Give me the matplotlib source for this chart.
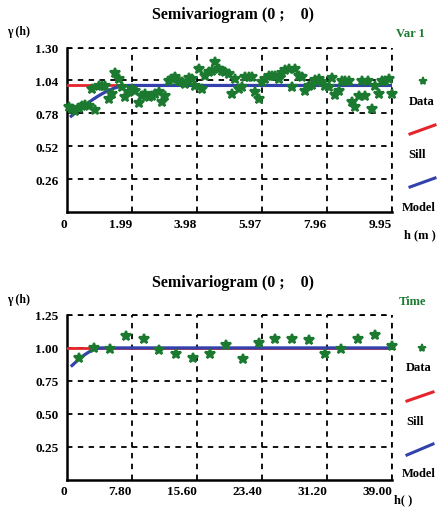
import numpy as np
import matplotlib
matplotlib.use("Agg")
import matplotlib.pyplot as plt
from matplotlib.lines import Line2D

# ---- Var 1 experimental semivariogram ----
var1_lag = [0.05, 0.15, 0.26, 0.36, 0.46, 0.56, 0.66, 0.77, 0.87, 0.97,
            1.07, 1.17, 1.28, 1.38, 1.48, 1.58, 1.68, 1.79, 1.89, 1.99,
            2.09, 2.19, 2.30, 2.40, 2.50, 2.60, 2.70, 2.81, 2.91, 3.01,
            3.11, 3.21, 3.32, 3.42, 3.52, 3.62, 3.72, 3.83, 3.93, 4.03,
            4.13, 4.23, 4.34, 4.44, 4.54, 4.64, 4.74, 4.85, 4.95, 5.05,
            5.15, 5.26, 5.36, 5.46, 5.56, 5.66, 5.77, 5.87, 5.97, 6.07,
            6.17, 6.28, 6.38, 6.48, 6.58, 6.68, 6.79, 6.89, 6.99, 7.09,
            7.19, 7.30, 7.40, 7.50, 7.60, 7.70, 7.81, 7.91, 8.01, 8.11,
            8.21, 8.32, 8.42, 8.52, 8.62, 8.72, 8.83, 8.93, 9.03, 9.13,
            9.23, 9.34, 9.44, 9.54, 9.64, 9.74, 9.85, 9.95]
var1_gamma = [0.827, 0.814, 0.801, 0.819, 0.840, 0.846, 0.840, 0.972, 0.806, 0.993,
              0.998, 0.993, 0.893, 0.932, 1.098, 1.051, 0.985, 0.906, 0.945, 0.972,
              0.959, 0.861, 0.919, 0.932, 0.906, 0.919, 0.932, 0.945, 0.867, 0.919,
              1.037, 1.051, 1.064, 1.037, 1.024, 1.011, 1.056, 1.051, 0.993, 1.129,
              0.972, 1.077, 1.103, 1.116, 1.182, 1.129, 1.116, 1.103, 1.090, 0.932,
              1.051, 0.972, 0.985, 1.064, 1.064, 1.064, 0.945, 0.893, 1.024, 1.051,
              1.077, 1.077, 1.071, 1.051, 1.098, 1.124, 1.129, 0.985, 1.129, 1.071,
              1.064, 0.959, 0.993, 1.003, 1.045, 1.051, 1.029, 0.998, 0.985, 1.056,
              0.924, 0.959, 1.037, 1.037, 1.037, 0.867, 0.827, 0.919, 1.037, 0.919,
              1.037, 0.814, 0.998, 0.932, 1.037, 1.037, 1.051, 0.932]
var1_xticks = [0, 1.99, 3.98, 5.97, 7.96, 9.95]
var1_xlabels = ["0", "1.99", "3.98", "5.97", "7.96", "9.95"]
var1_yticks = [0.26, 0.52, 0.78, 1.04, 1.30]
var1_ylabels = ["0.26", "0.52", "0.78", "1.04", "1.30"]
var1_model = dict(nugget=0.73, sill=1.0, range=1.9, start=0.13)

# ---- Time experimental semivariogram ----
time_lag = [1.4, 3.3, 5.2, 7.1, 9.2, 11.1, 13.1, 15.1, 17.1, 19.1,
            21.1, 23.0, 25.0, 27.0, 29.0, 31.0, 32.9, 34.9, 37.0, 39.0]
time_gamma = [0.925, 1.000, 0.989, 1.090, 1.065, 0.981, 0.956, 0.920, 0.951, 1.019,
              0.913, 1.034, 1.065, 1.070, 1.057, 0.956, 0.994, 1.065, 1.095, 1.015]
time_xticks = [0, 7.8, 15.6, 23.4, 31.2, 39.0]
time_xlabels = ["0", "7.80", "15.60", "23.40", "31.20", "39.00"]
time_yticks = [0.25, 0.50, 0.75, 1.00, 1.25]
time_ylabels = ["0.25", "0.50", "0.75", "1.00", "1.25"]
time_model = dict(nugget=0.83, sill=1.0, range=4.2, start=0.6)

GREEN = "#1c7a30"
RED = "#e5242b"
BLUE = "#3341ad"
SERIF = ["Liberation Serif", "DejaVu Serif"]

W, H = 439, 510
fig = plt.figure(figsize=(W / 100, H / 100), dpi=100)


def spherical(h, p):
    h = np.asarray(h)
    r = np.clip(h / p["range"], 0, 1)
    return p["nugget"] + (p["sill"] - p["nugget"]) * (1.5 * r - 0.5 * r ** 3)


def fx(px):
    return px / W


def fy(py):
    return 1 - py / H


def panel(top_px, lag, gamma, xticks, xlabels, yticks, ylabels, model, var_name, xlab, xlab_x, ylab_y, title_y, legend):
    ax = fig.add_axes([fx(67), fy(top_px + 164.5), fx(325), 164.5 / H])
    xmax = xticks[-1]
    ymax = yticks[-1]
    ax.set_xlim(0, xmax)
    ax.set_ylim(0, ymax)
    ax.set_xticks(xticks)
    ax.set_xticklabels(xlabels)
    ax.set_yticks(yticks)
    ax.set_yticklabels(ylabels)
    for lab in ax.get_xticklabels():
        lab.set_horizontalalignment("right")
    ax.tick_params(axis="both", length=0, labelsize=9.5, pad=6)
    ax.tick_params(axis="x", pad=4)
    for lab in ax.get_xticklabels() + ax.get_yticklabels():
        lab.set_fontfamily(SERIF)
        lab.set_fontweight("bold")
    ax.grid(True, color="black", linestyle=(0, (3, 3)), linewidth=1.3)
    for s in ("top", "right"):
        ax.spines[s].set_visible(False)
    # dashed outer border at the last gridlines
    ax.axhline(ymax, color="black", linestyle=(0, (3, 3)), linewidth=1.3, clip_on=False)
    ax.axvline(xmax, color="black", linestyle=(0, (3, 3)), linewidth=1.3, clip_on=False)
    for s in ("left", "bottom"):
        ax.spines[s].set_linewidth(1.8)

    ax.plot([0, xmax], [model["sill"], model["sill"]], color=RED, lw=2, zorder=3)
    hm = np.linspace(model["start"], xmax, 400)
    ax.plot(hm, spherical(hm, model), color=BLUE, lw=2.3, zorder=4)
    ax.plot(lag, gamma, linestyle="none", marker="*", markersize=7.5,
            markeredgewidth=1.6, color=GREEN, markeredgecolor=GREEN,
            zorder=5, clip_on=False)

    fig.text(fx(233), fy(title_y), "Semivariogram (0 ;    0)", ha="center", va="center",
             family=SERIF, fontweight="bold", fontsize=11.5)
    fig.text(fx(7), fy(ylab_y), "\u03b3 (h)", ha="left", va="center",
             family=SERIF, fontweight="bold", fontsize=8.5)
    fig.text(fx(legend["var"][0]), fy(legend["var"][1]), var_name, ha="center", va="center",
             family=SERIF, fontweight="bold", fontsize=9, color=GREEN)
    fig.text(fx(xlab_x), fy(legend["xlab_y"]), xlab, ha="center", va="center",
             family=SERIF, fontweight="bold", fontsize=9)

    # legend
    mx, my = legend["marker"]
    fig.add_artist(Line2D([fx(mx)], [fy(my)], linestyle="none", marker="*", markersize=6,
                          markeredgewidth=1.2, color=GREEN, transform=fig.transFigure))
    for (x0, y0, x1, y1), c in ((legend["red"], RED), (legend["blue"], BLUE)):
        fig.add_artist(Line2D([fx(x0), fx(x1)], [fy(y0), fy(y1)], color=c, lw=2.2,
                              transform=fig.transFigure))
    for name, (x, y) in (("Data", legend["data"]), ("Sill", legend["sill"]), ("Model", legend["model"])):
        fig.text(fx(x), fy(y), name, ha="center", va="center",
                 family=SERIF, fontweight="bold", fontsize=9)
    return ax


panel(48.5, var1_lag, var1_gamma, var1_xticks, var1_xlabels, var1_yticks, var1_ylabels,
      var1_model, "Var 1", "h (m )", 420, 32, 15,
      dict(var=(410, 34), xlab_y=235, marker=(423, 82), data=(422, 102),
           red=(410, 135, 435, 126), sill=(417, 155), blue=(410, 188, 435, 179),
           model=(419, 208)))

panel(316, time_lag, time_gamma, time_xticks, time_xlabels, time_yticks, time_ylabels,
      time_model, "Time", "h( )", 403, 300, 283,
      dict(var=(413, 302), xlab_y=500, marker=(422, 349), data=(419, 368),
           red=(407, 402, 433, 393), sill=(415, 422), blue=(407, 456, 433, 445),
           model=(419, 474)))

fig.savefig("out.png", dpi=100)
